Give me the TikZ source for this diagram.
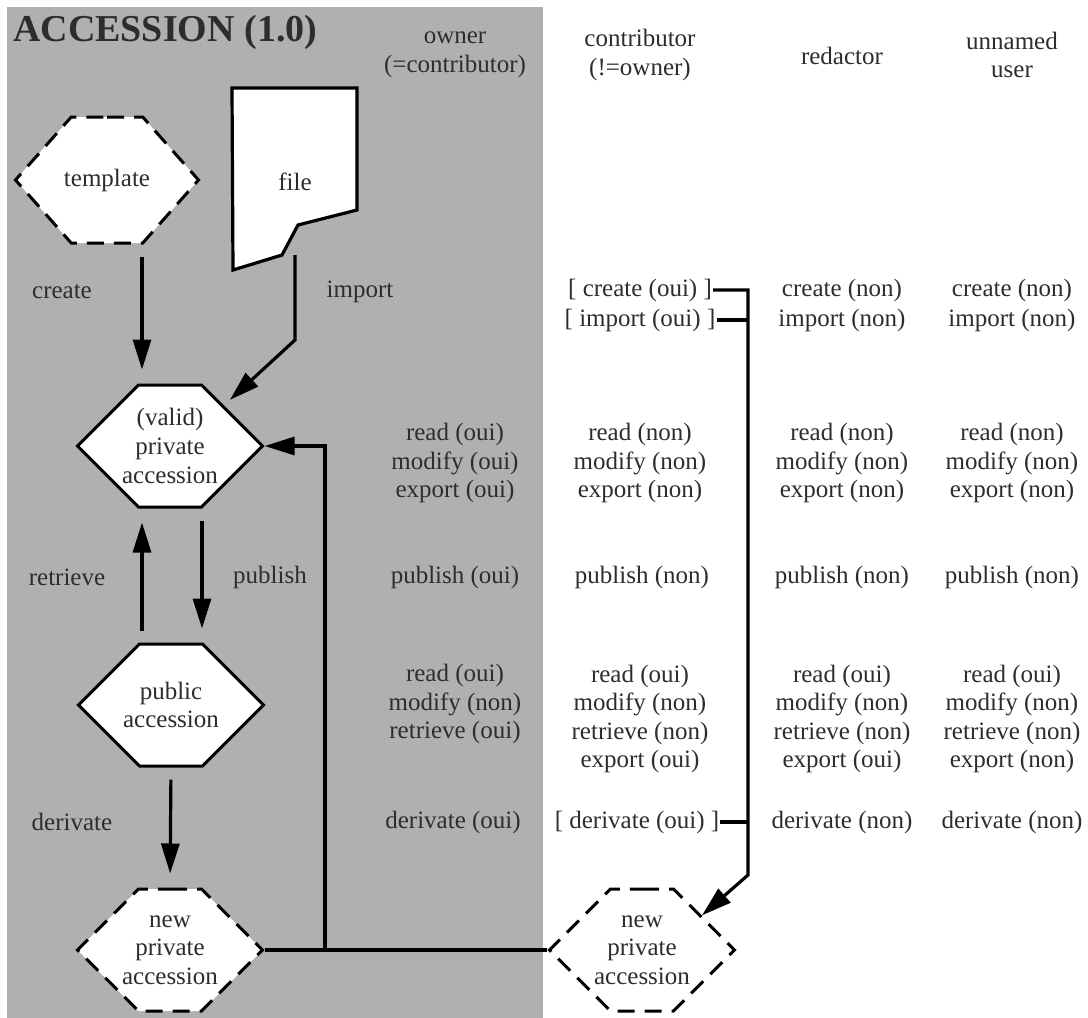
\documentclass[tikz,border=0pt]{standalone}
\usepackage{fontspec}
\setmainfont{Liberation Serif}
\usetikzlibrary{arrows.meta,shapes.symbols}
\definecolor{panel}{RGB}{176,176,176}
\definecolor{ink}{RGB}{45,45,45}
\tikzset{
  txt/.style={font=\fontsize{25}{28.6}\selectfont,text=ink,align=center,inner sep=1pt},
  hexa/.style={shape=signal,signal to=east and west,signal pointer angle=90,
    minimum width=185pt,minimum height=122pt,inner sep=0pt,
    draw,fill=white,line width=3pt,label={[txt]center:#1}},
  hexdash/.style={hexa={#1},dash pattern=on 17pt off 10pt},
  line/.style={line width=3.2pt},
  flow/.style={line,-{Triangle[length=30pt,width=18pt]}},
  gap/.style={shorten <=12pt,shorten >=14pt}
}
\begin{document}
\begin{tikzpicture}[x=1pt,y=-1pt]
    \useasboundingbox (0,0) rectangle (1088,1018);
    \fill[panel] (7,7) rectangle (543,1018);

    \node[anchor=west,inner sep=0pt,text=ink,font=\fontsize{38}{44}\selectfont\bfseries] (title) at (13,32) {ACCESSION (1.0)};

    % column heads
    \node[txt] (h-own) at (455,55) {owner\\(=contributor)};
    \node[txt] (h-con) at (640,55) {contributor\\(!=owner)};
    \node[txt] (h-red) at (842,56) {redactor};
    \node[txt] (h-unn) at (1012,55) {unnamed\\user};

    % owner side
    \node[hexdash=template,signal pointer angle=97,minimum width=183pt,minimum height=126pt] (tmpl) at (107,180) {};
    \draw[line,fill=white] (232,88) -- (357,88) -- (357,210) -- (298,225) -- (282,255) -- (233,270) -- cycle;
    \node[txt,minimum width=125pt,minimum height=182pt] (file) at (295,182) {file};
    \node[hexa={(valid)\\private\\accession}] (priv) at (170,446) {};
    \node[hexa={public\\accession}] (pub) at (171,705) {};
    \node[hexdash={new\\private\\accession}] (newl) at (170,950) {};
    \node[hexdash={new\\private\\accession}] (newr) at (642,950) {};

    \node[txt] (l-create) at (62,292) {create};
    \node[txt] (l-import) at (360,292) {import};
    \node[txt] (l-retr) at (67,577) {retrieve};
    \node[txt] (l-publ) at (270,577) {publish};
    \node[txt] (l-deriv) at (72,822) {derivate};

    \node[txt] (o-priv) at (455,463) {read (oui)\\modify (oui)\\export (oui)};
    \node[txt] (o-publ) at (455,577) {publish (oui)};
    \node[txt] (o-pub) at (455,704) {read (oui)\\modify (non)\\retrieve (oui)};
    \node[txt] (o-deriv) at (453,822) {derivate (oui)};

    % contributor
    \node[txt] (c-create) at (640,290) {[ create (oui) ]};
    \node[txt] (c-import) at (640,320) {[ import (oui) ]};
    \node[txt] (c-priv) at (640,463) {read (non)\\modify (non)\\export (non)};
    \node[txt] (c-publ) at (642,577) {publish (non)};
    \node[txt] (c-pub) at (640,719) {read (oui)\\modify (non)\\retrieve (non)\\export (oui)};
    \node[txt] (c-deriv) at (637,822) {[ derivate (oui) ]};

    % redactor and unnamed user
    \foreach \x/\n/\e in {842/red/oui,1012/unn/non} {
        \node[txt] (\n-create) at (\x,290) {create (non)};
        \node[txt] (\n-import) at (\x,320) {import (non)};
        \node[txt] (\n-priv) at (\x,463) {read (non)\\modify (non)\\export (non)};
        \node[txt] (\n-publ) at (\x,577) {publish (non)};
        \node[txt] (\n-pub) at (\x,719) {read (oui)\\modify (non)\\retrieve (non)\\export (\e)};
        \node[txt] (\n-deriv) at (\x,822) {derivate (non)};
    }

    % arrows
    \coordinate (fbend) at (295,340);
    \draw[flow,shorten >=8pt] ([yshift=18pt]file.south) -- (fbend) -- (priv.37);
    \draw[flow,gap] ([xshift=35pt]tmpl.south) -- ([xshift=-28pt]priv.north);
    \draw[flow,gap] ([xshift=32pt]priv.south) -- ([xshift=31pt]pub.north);
    \draw[flow,gap] ([xshift=-29pt]pub.north) -- ([xshift=-28pt]priv.south);
    \draw[flow,gap] (pub.south) -- (newl.north);

    \coordinate (junc) at (325,950);
    \draw[line] (newl.east) -- (newr.west);
    \draw[flow] (junc) |- (priv.east);

    \coordinate (bend) at (748,875);
    \draw[flow] (c-create.east) -| (bend) -- (newr.30);
    \draw[line] (c-import.east) -- (c-import.east -| bend);
    \draw[line] (c-deriv.east) -- (c-deriv.east -| bend);

\end{tikzpicture}
\end{document}
